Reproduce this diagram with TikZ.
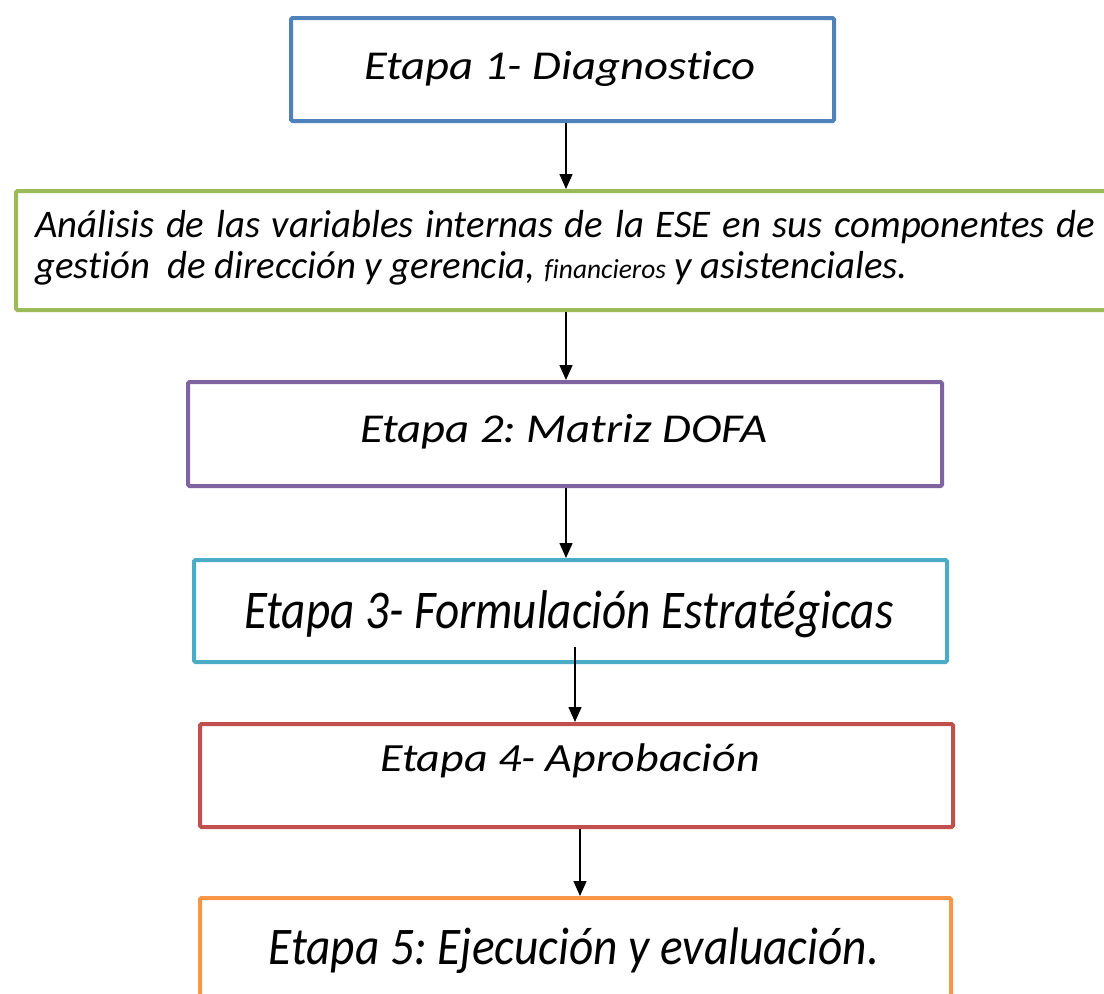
\documentclass[tikz,border=0pt]{standalone}
\usepackage{fontspec}
\setmainfont{Carlito}[Ligatures=NoCommon]
\frenchspacing
\usetikzlibrary{arrows.meta}
\definecolor{cblue}{HTML}{4F81BD}
\definecolor{cgreen}{HTML}{9BBB59}
\definecolor{cpurple}{HTML}{8064A2}
\definecolor{ccyan}{HTML}{4BACC6}
\definecolor{cred}{HTML}{C0504D}
\definecolor{corange}{HTML}{F79646}
\tikzset{
  stagebox/.style={draw=#1, line width=4pt, rounded corners=1.5pt, inner sep=0pt, anchor=north west},
  stagetext/.style={anchor=base, inner sep=0pt, font=\itshape\fontsize{41}{48}\selectfont},
  flowarrow/.style={line width=1.5pt, -{Triangle[width=13pt,length=15pt]}},
}
\begin{document}
\begin{tikzpicture}[x=1pt,y=-1pt]
\useasboundingbox (0,0) rectangle (1104,994);
\clip (0,0) rectangle (1104,994);
\fill[white] (0,0) rectangle (1104,994);
% boxes
\node[stagebox=cblue, minimum width=543pt, minimum height=103pt] (b1) at (289,16) {};
\node[stagebox=cgreen, minimum width=1100pt, minimum height=119pt] (b2) at (14,189) {};
\node[stagebox=cpurple, minimum width=754pt, minimum height=104pt] (b3) at (186,380) {};
\node[stagebox=ccyan, minimum width=753pt, minimum height=102pt] (b4) at (192,558) {};
\node[stagebox=cred, minimum width=753pt, minimum height=103pt] (b5) at (198,722) {};
\node[stagebox=corange, minimum width=751pt, minimum height=110pt] (b6) at (198,896) {};
% texts
\node[stagetext] (t1) at (560,79) {\scalebox{1.14}[1]{Etapa 1- Diagnostico}};
\node[anchor=base west, inner sep=0pt] (t2) at (35,237)
  {\scalebox{1.14}[1.15]{\parbox[t]{930pt}{\fontsize{34}{35.7}\selectfont\itshape
   Análisis de las variables internas de la ESE en sus componentes de\linebreak
   gestión\ \ de dirección y gerencia, {\fontsize{24}{28}\selectfont financieros} y asistenciales.}}};
\node[stagetext] (t3) at (564,442) {\scalebox{1.14}[1]{Etapa 2: Matriz DOFA}};
\node[stagetext] (t4) at (569,628) {\scalebox{1.15}[1.33]{Etapa 3- Formulación Estratégicas}};
\node[stagetext, font=\itshape\fontsize{40}{48}\selectfont] (t5) at (570,771) {\scalebox{1.15}[1]{Etapa 4- Aprobación}};
\node[stagetext] (t6) at (574,964) {\scalebox{1.155}[1.29]{Etapa 5: Ejecución y evaluación.}};
% arrows
\coordinate (x1) at (566,0);
\coordinate (x4) at (575,0);
\coordinate (x5) at (580,0);
\coordinate (s4) at (575,647);
\draw[flowarrow] (b1.south -| x1) -- (b2.north -| x1);
\draw[flowarrow] (b2.south -| x1) -- (b3.north -| x1);
\draw[flowarrow] (b3.south -| x1) -- (b4.north -| x1);
\draw[flowarrow] (s4) -- (b5.north -| x4);
\draw[flowarrow] (b5.south -| x5) -- (b6.north -| x5);
\end{tikzpicture}
\end{document}
